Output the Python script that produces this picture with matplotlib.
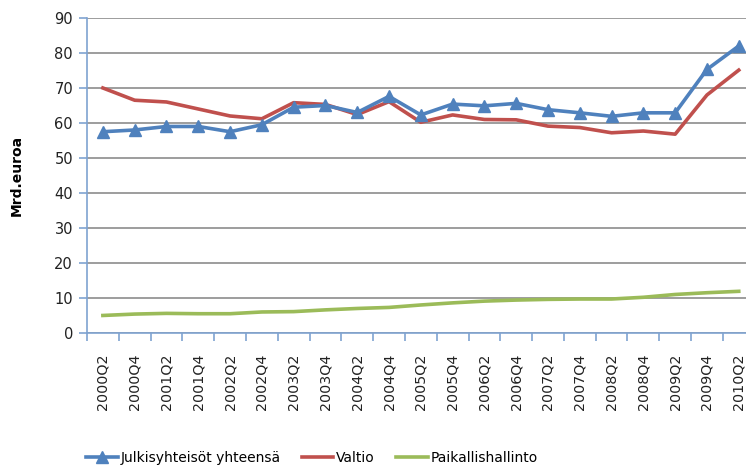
"""Public sector series by quarter, Excel-style line chart."""

import matplotlib

matplotlib.use("Agg")
import matplotlib.pyplot as plt
import numpy as np

quarters = [
    "2000Q2", "2000Q4", "2001Q2", "2001Q4", "2002Q2", "2002Q4", "2003Q2",
    "2003Q4", "2004Q2", "2004Q4", "2005Q2", "2005Q4", "2006Q2", "2006Q4",
    "2007Q2", "2007Q4", "2008Q2", "2008Q4", "2009Q2", "2009Q4", "2010Q2",
]
julkisyhteisot = [
    57.5, 58.0, 59.0, 59.0, 57.5, 59.5, 64.5, 65.0, 63.0, 67.6, 62.3,
    65.4, 64.9, 65.6, 63.8, 62.9, 61.9, 62.9, 62.9, 75.3, 82.0,
]
valtio = [
    70.0, 66.5, 66.0, 64.0, 62.0, 61.2, 65.8, 65.3, 62.4, 66.1, 60.2,
    62.3, 61.0, 60.9, 59.1, 58.7, 57.2, 57.7, 56.8, 68.0, 75.1,
]
paikallishallinto = [
    5.0, 5.4, 5.6, 5.5, 5.5, 6.0, 6.1, 6.6, 7.0, 7.3, 8.0,
    8.6, 9.1, 9.4, 9.6, 9.7, 9.7, 10.2, 11.0, 11.5, 11.9,
]
y_ticks = [0, 10, 20, 30, 40, 50, 60, 70, 80, 90]

BLUE = "#4F81BD"
RED = "#C0504D"
GREEN = "#9BBB59"
AXIS_BLUE = "#7FA3D1"

plt.rcParams["font.family"] = ["DejaVu Sans"]

fig = plt.figure(figsize=(7.46, 4.67), dpi=100)
ax = fig.add_axes([0.1166, 0.287, 0.895, 0.6745])

x = np.arange(len(quarters))
ax.plot(x, valtio, color=RED, lw=2.6, label="Valtio", zorder=3)
ax.plot(x, paikallishallinto, color=GREEN, lw=2.6, label="Paikallishallinto", zorder=3)
ax.plot(
    x, julkisyhteisot, color=BLUE, lw=2.6, marker="^", markersize=9,
    label="Julkisyhteisöt yhteensä", zorder=4,
)

ax.set_xlim(-0.5, len(quarters) - 0.5)
ax.set_ylim(0, 90)
ax.set_yticks(y_ticks)
ax.set_yticklabels([str(v) for v in y_ticks], fontsize=10.5, color="#222222")
ax.yaxis.grid(True, color="#8C8C8C", lw=1.2)
ax.set_axisbelow(True)

ax.set_xticks(x)
ax.set_xticklabels(quarters, rotation=90, fontsize=10.3, color="#222222")
ax.set_xticks(np.arange(-0.5, len(quarters), 1.0), minor=True)
ax.tick_params(axis="x", which="major", length=0, pad=15)
ax.tick_params(axis="x", which="minor", length=6, color=AXIS_BLUE, width=1.2)
ax.tick_params(axis="y", length=6, color=AXIS_BLUE, width=1.2, pad=4)

for side in ("top", "right"):
    ax.spines[side].set_visible(False)
for side in ("left", "bottom"):
    ax.spines[side].set_color(AXIS_BLUE)
    ax.spines[side].set_linewidth(1.2)

ax.set_ylabel("Mrd.euroa", fontsize=10, fontweight="bold", labelpad=22)

handles, labels = ax.get_legend_handles_labels()
order = [2, 0, 1]
fig.legend(
    [handles[i] for i in order], [labels[i] for i in order],
    loc="center", bbox_to_anchor=(0.418, 1 - 458 / 467), ncol=3,
    frameon=False, fontsize=10, handlelength=2.3, handletextpad=0.2,
    columnspacing=1.5,
)

fig.savefig("out.png", dpi=100)
